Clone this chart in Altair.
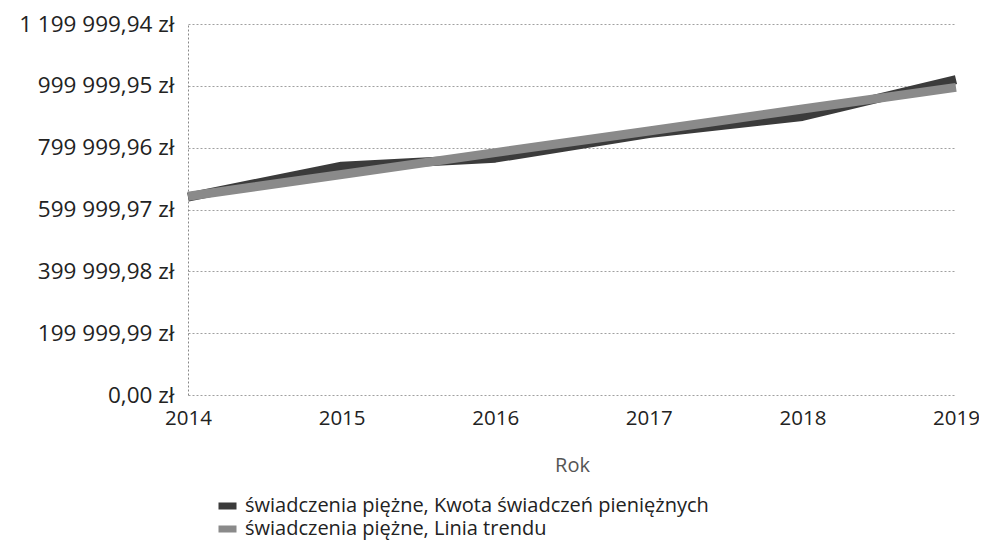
import altair as alt
import pandas as pd

years = [2014, 2015, 2016, 2017, 2018, 2019]
actual = [640000, 740000, 766000, 846000, 901000, 1020000]
trend = [643000, 713000, 784000, 854000, 925000, 995000]
series_names = ["świadczenia piężne, Kwota świadczeń pieniężnych",
                "świadczenia piężne, Linia trendu"]
y_ticks = [0, 199999.99, 399999.98, 599999.97, 799999.96, 999999.95, 1199999.94]
colors = ["#3b3b3b", "#8a8a8a"]

rows = []
for i, y in enumerate(years):
    rows.append({"Rok": y, "Wartość": actual[i], "Seria": series_names[0], "o": 0})
for i, y in enumerate(years):
    rows.append({"Rok": y, "Wartość": trend[i], "Seria": series_names[1], "o": 1})
df = pd.DataFrame(rows)

FONT = "Open Sans"

label_expr = ("replace(replace(format(datum.value, ',.2f'), regexp(',', 'g'), ' '), '.', ',') + ' zł'")

chart = alt.Chart(df).mark_line(strokeWidth=9, strokeCap="butt", strokeJoin="round").encode(
    x=alt.X("Rok:Q",
            scale=alt.Scale(domain=[2014, 2019], nice=False, zero=False),
            axis=alt.Axis(values=years, format="d", title="Rok", grid=False,
                          ticks=False, domain=False, labelFontSize=20.5,
                          labelColor="#222222", labelPadding=13,
                          titleFontSize=20, titleFontWeight="normal",
                          titleColor="#555555", titlePadding=27,
                          labelFlush=False)),
    y=alt.Y("Wartość:Q",
            scale=alt.Scale(domain=[0, 1199999.94], nice=False),
            axis=alt.Axis(values=y_ticks, labelExpr=label_expr, title=None,
                          ticks=False, domain=True, domainDash=[2, 2],
                          domainColor="#888888", domainWidth=1,
                          grid=True, gridDash=[2, 2], gridColor="#a0a0a0",
                          gridWidth=1, labelFontSize=22.5, labelColor="#222222",
                          labelPadding=14)),
    color=alt.Color("Seria:N",
                    scale=alt.Scale(domain=series_names, range=colors),
                    legend=alt.Legend(title=None, orient="none", legendX=27,
                                      legendY=472, direction="vertical",
                                      symbolType="stroke", symbolSize=324,
                                      symbolStrokeWidth=7, labelFontSize=20,
                                      labelColor="#222222", rowPadding=3,
                                      clipHeight=20,
                                      labelOffset=5, labelLimit=700)),
    order=alt.Order("o:Q"),
).properties(
    width=768, height=371,
    autosize=alt.AutoSizeParams(type="none"),
    padding={"left": 180, "top": 16, "right": 23, "bottom": 146}
).configure(
    font=FONT
).configure_view(
    stroke=None
)

chart.save("out.html", embed_options={"renderer": "svg", "actions": False})
